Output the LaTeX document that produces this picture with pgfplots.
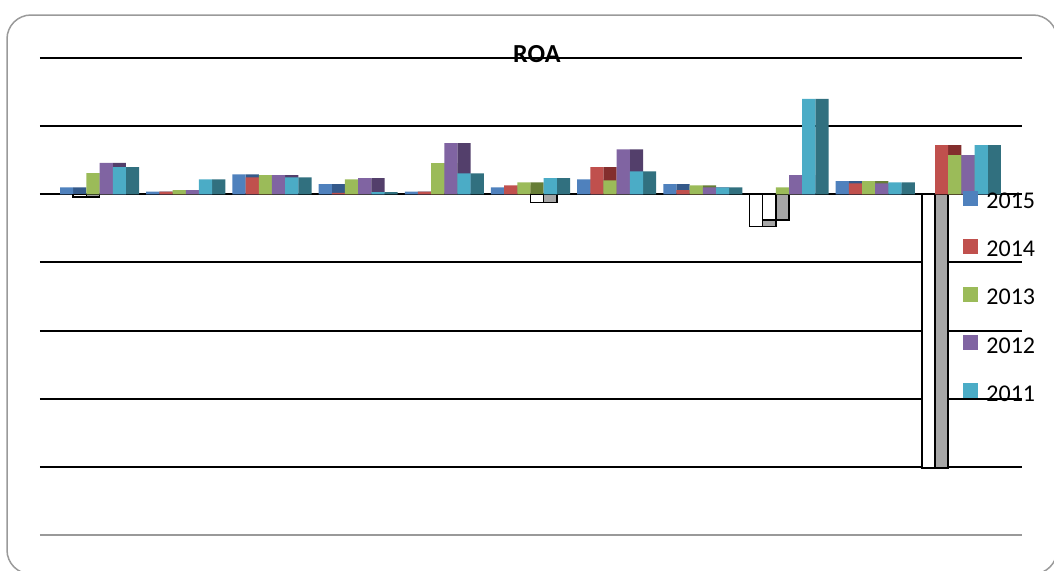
\documentclass[border=0pt]{standalone}
\usepackage{pgfplots}
\pgfplotsset{compat=1.18}
\usepackage{pgfplotstable}
\usepackage{fontspec}
\setmainfont{Carlito}

% front faces of the columns
\definecolor{cA}{HTML}{4F81BD}
\definecolor{cB}{HTML}{C0504D}
\definecolor{cC}{HTML}{9BBB59}
\definecolor{cD}{HTML}{8064A2}
\definecolor{cE}{HTML}{4BACC6}
% side faces (depth) of the columns
\definecolor{dA}{HTML}{34598A}
\definecolor{dB}{HTML}{832E2D}
\definecolor{dC}{HTML}{667D36}
\definecolor{dD}{HTML}{533F6B}
\definecolor{dE}{HTML}{31707F}
\definecolor{negside}{HTML}{A6A6A6}
\definecolor{framegray}{HTML}{9A9A9A}

% ROA by company; a=2015, b=2014, c=2013, d=2012, e=2011
\pgfplotstableread{
g a b c d e
0 0.0050 -0.0020 0.0155 0.0230 0.0200
1 0.0020 0.0020 0.0030 0.0030 0.0110
2 0.0147 0.0125 0.0140 0.0140 0.0125
3 0.0074 0.0010 0.0110 0.0118 0.0015
4 0.0020 0.0020 0.0228 0.0375 0.0154
5 0.0050 0.0066 0.0088 -0.0060 0.0118
6 0.0110 0.0199 0.0103 0.0330 0.0169
7 0.0074 0.0030 0.0066 0.0050 0.0050
8 -0.0235 -0.0190 0.0050 0.0140 0.0700
9 0.0096 0.0080 0.0096 0.0080 0.0088
10 -0.2007 0.0360 0.0287 0.0287 0.0360
}\roa

\begin{document}
\begin{tikzpicture}
% chart frame
\draw[framegray, line width=0.75pt, rounded corners=12pt] (3.5pt,277.5pt) rectangle (528.5pt,-2pt);
\begin{axis}[
  at={(20pt,17.5pt)}, anchor=south west,
  scale only axis, width=491pt, height=238.5pt,
  xmin=-0.615, xmax=10.78, ymin=-0.25, ymax=0.10,
  axis line style={draw=none},
  xtick=\empty,
  ytick={-0.2,-0.15,-0.1,-0.05,0,0.05,0.1},
  yticklabels={}, major tick length=0pt,
  ymajorgrids, major grid style={black, line width=1pt},
  extra y ticks={-0.25}, extra y tick labels={},
  extra y tick style={major grid style={gray!80, line width=1.2pt}},
  every axis plot/.append style={ybar, bar width=0.153, bar shift=0pt},
  clip=false,
  title={ROA},
  every axis title shift=0pt,
  title style={at={(0.506,1)}, anchor=center, yshift=2.2pt,
    font=\fontsize{13}{15}\selectfont\bfseries, inner sep=0pt},
  legend style={at={(0.940,0.723)}, anchor=north west, draw=none, fill=none,
    inner sep=0pt, row sep=13.4pt, column sep=4pt,
    font=\fontsize{12}{14}\selectfont, nodes={inner sep=0pt}},
  legend cell align=left,
  legend image code/.code={\fill[#1] (0pt,-1.5pt) rectangle (7.5pt,6pt);},
]
% side faces, drawn first so the next column's front covers them
\addplot[fill=dA, draw=none, forget plot, restrict y to domain=0:1] table[x expr=\thisrow{g}-0.153, y=a]{\roa};
\addplot[fill=negside, draw=black, line width=0.75pt, forget plot, restrict y to domain=-1:0] table[x expr=\thisrow{g}-0.153, y=a]{\roa};
\addplot[fill=dB, draw=none, forget plot, restrict y to domain=0:1] table[x expr=\thisrow{g}, y=b]{\roa};
\addplot[fill=negside, draw=black, line width=0.75pt, forget plot, restrict y to domain=-1:0] table[x expr=\thisrow{g}, y=b]{\roa};
\addplot[fill=dC, draw=none, forget plot] table[x expr=\thisrow{g}+0.153, y=c]{\roa};
\addplot[fill=dD, draw=none, forget plot, restrict y to domain=0:1] table[x expr=\thisrow{g}+0.306, y=d]{\roa};
\addplot[fill=negside, draw=black, line width=0.75pt, forget plot, restrict y to domain=-1:0] table[x expr=\thisrow{g}+0.306, y=d]{\roa};
\addplot[fill=dE, draw=none, forget plot] table[x expr=\thisrow{g}+0.459, y=e]{\roa};
% front faces
\addplot[fill=cA, draw=none, restrict y to domain=0:1] table[x expr=\thisrow{g}-0.306, y=a]{\roa};
\addplot[fill=white, draw=black, line width=0.75pt, forget plot, restrict y to domain=-1:0] table[x expr=\thisrow{g}-0.306, y=a]{\roa};
\addplot[fill=cB, draw=none, restrict y to domain=0:1] table[x expr=\thisrow{g}-0.153, y=b]{\roa};
\addplot[fill=white, draw=black, line width=0.75pt, forget plot, restrict y to domain=-1:0] table[x expr=\thisrow{g}-0.153, y=b]{\roa};
\addplot[fill=cC, draw=none] table[x expr=\thisrow{g}, y=c]{\roa};
\addplot[fill=cD, draw=none, restrict y to domain=0:1] table[x expr=\thisrow{g}+0.153, y=d]{\roa};
\addplot[fill=white, draw=black, line width=0.75pt, forget plot, restrict y to domain=-1:0] table[x expr=\thisrow{g}+0.153, y=d]{\roa};
\addplot[fill=cE, draw=none] table[x expr=\thisrow{g}+0.306, y=e]{\roa};
\legend{2015,2014,2013,2012,2011}
\end{axis}
\pgfresetboundingbox
\path (0pt,0pt) rectangle (527pt,285pt);
\end{tikzpicture}
\end{document}
